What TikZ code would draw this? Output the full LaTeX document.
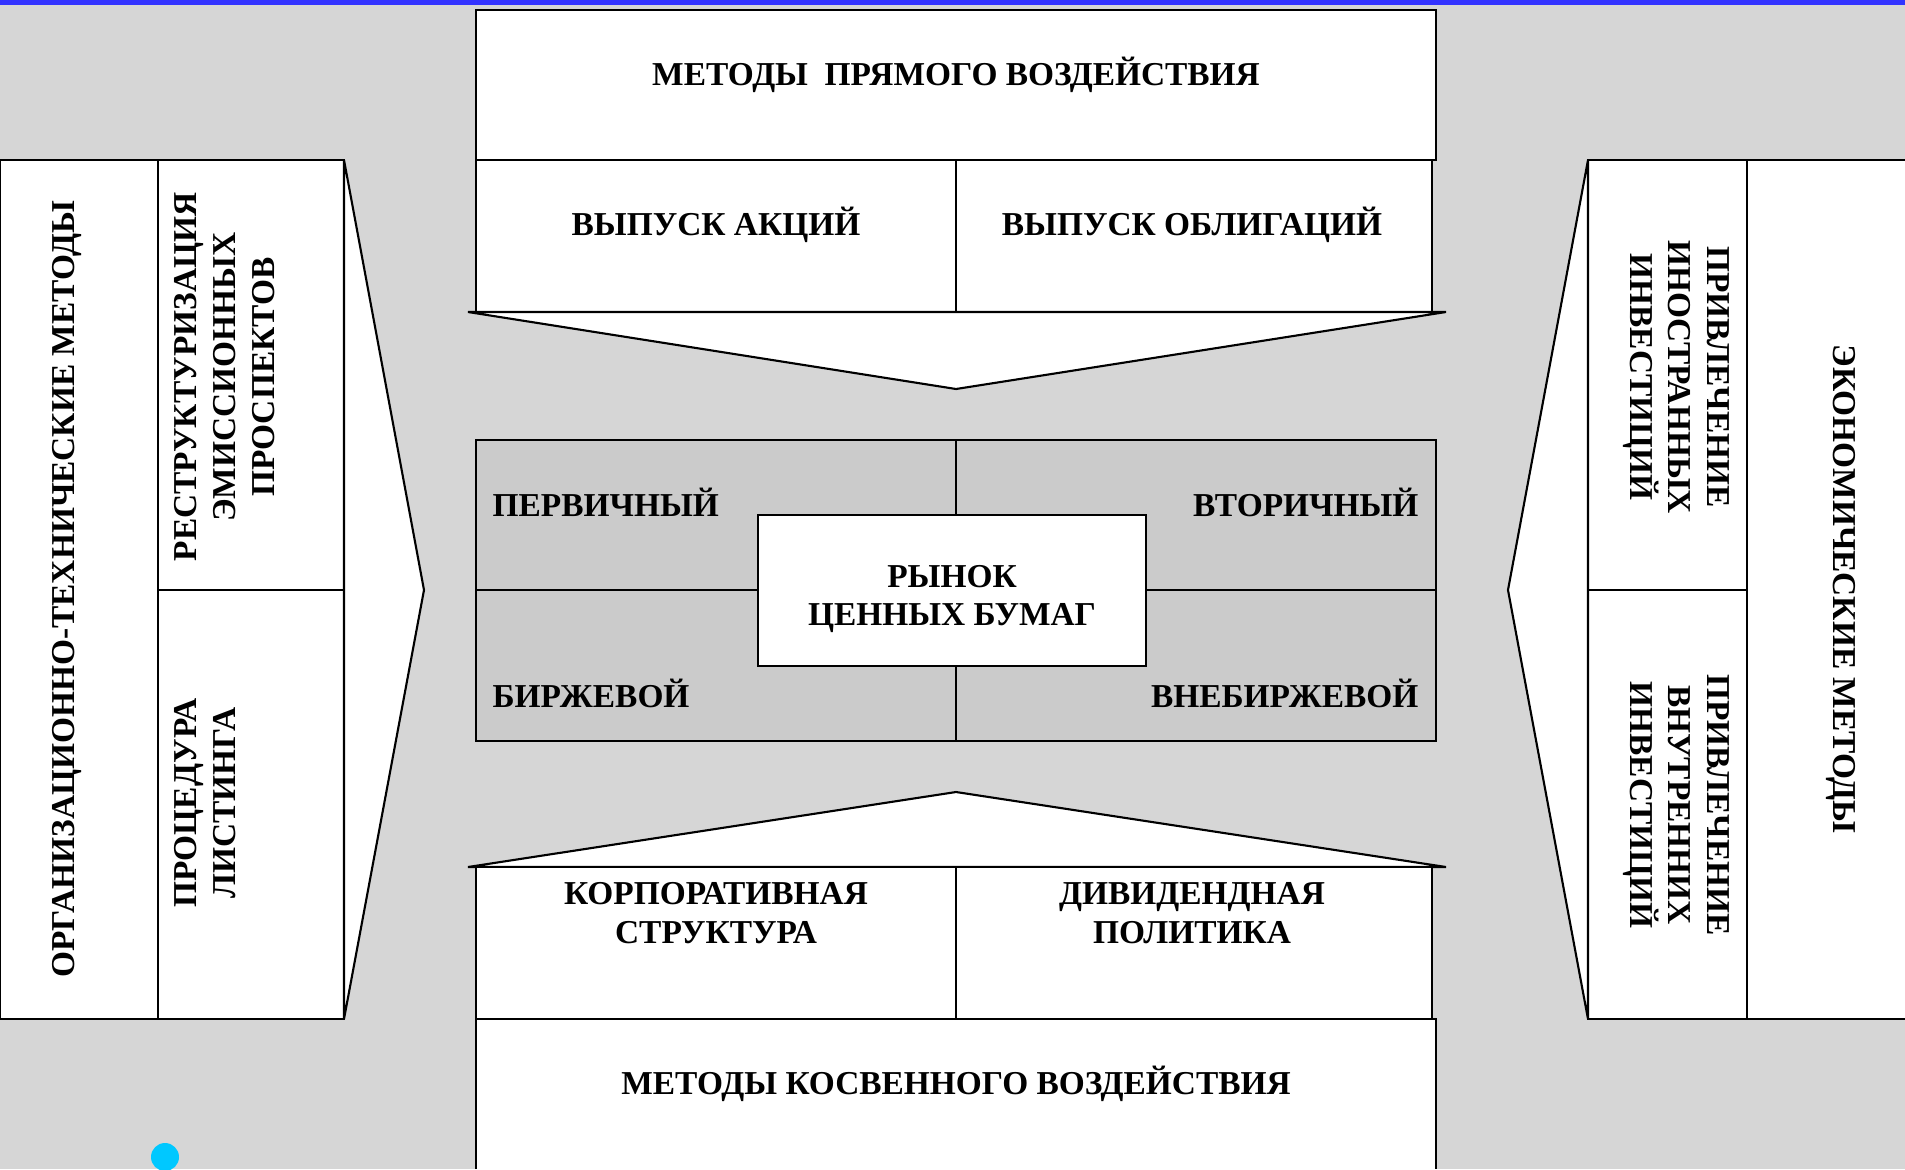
\documentclass[tikz,border=0pt]{standalone}
\usepackage{fontspec}
\setmainfont{Liberation Serif}
\definecolor{slidebg}{RGB}{214,214,214}
\definecolor{marketbg}{RGB}{203,203,203}
\definecolor{topbar}{RGB}{51,51,255}
\definecolor{bullet}{RGB}{0,200,255}
\begin{document}
\begin{tikzpicture}[x=0.01cm, y=-0.01cm, line width=0.6pt,
        lbl/.style={font=\bfseries\fontsize{9.5}{11}\selectfont, align=center, inner sep=1pt}]
        \def \lx {476}   % left edge of middle column
        \def \mx {956}   % split of middle column
        \def \rx {1436}  % right edge of middle column
        \def \ty {160}   % top of side blocks
        \def \cy {590}   % vertical centre line
        \def \by {1019}  % bottom of side blocks
        % slide background
        \useasboundingbox (0,0) rectangle (1905,1169);
        \fill[slidebg] (0,0) rectangle (1905,1169);
        \fill[topbar] (0,0) rectangle (1905,5);
        % direct methods
        \draw[fill=white] (\lx,10) rectangle (\rx,\ty);
        \node[lbl] (direct) at (\mx,75) {МЕТОДЫ\ \ ПРЯМОГО ВОЗДЕЙСТВИЯ};
        \draw[fill=white] (\lx,\ty) rectangle (\mx,312);
        \draw[fill=white] (\mx,\ty) rectangle (1432,312);
        \node[lbl] (shares) at (716,225) {ВЫПУСК АКЦИЙ};
        \node[lbl] (bonds) at (1192,225) {ВЫПУСК ОБЛИГАЦИЙ};
        % upper funnel
        \draw[fill=white] (468,312) -- (1446,312) -- (\mx,389) -- cycle;
        % market segments
        \draw[fill=marketbg] (\lx,440) rectangle (\rx,741);
        \draw (\mx,440) -- (\mx,741);
        \draw (\lx,\cy) -- (\rx,\cy);
        \node[lbl, anchor=west] (primary) at (488,502) {ПЕРВИЧНЫЙ};
        \node[lbl, anchor=east] (secondary) at (1423,502) {ВТОРИЧНЫЙ};
        \node[lbl, anchor=west] (exchange) at (488,693) {БИРЖЕВОЙ};
        \node[lbl, anchor=east] (otc) at (1423,693) {ВНЕБИРЖЕВОЙ};
        % securities market
        \draw[fill=white] (758,515) rectangle (1146,666);
        \node[lbl] (market) at (952,599) {РЫНОК\\ЦЕННЫХ БУМАГ};
        % lower funnel
        \draw[fill=white] (468,867) -- (1446,867) -- (\mx,792) -- cycle;
        % indirect methods
        \draw[fill=white] (\lx,867) rectangle (\mx,\by);
        \draw[fill=white] (\mx,867) rectangle (1432,\by);
        \node[lbl, anchor=north] (corporate) at (716,878) {КОРПОРАТИВНАЯ\\СТРУКТУРА};
        \node[lbl, anchor=north] (dividend) at (1192,878) {ДИВИДЕНДНАЯ\\ПОЛИТИКА};
        \draw[fill=white] (\lx,1169) -- (\lx,\by) -- (\rx,\by) -- (\rx,1169);
        \node[lbl] (indirect) at (\mx,1084) {МЕТОДЫ КОСВЕННОГО ВОЗДЕЙСТВИЯ};
        % organisational and technical methods
        \draw[fill=white] (0,\ty) rectangle (158,\by);
        \draw[fill=white] (158,\ty) rectangle (344,\cy);
        \draw[fill=white] (158,\cy) rectangle (344,\by);
        \draw[fill=white] (344,\ty) -- (424,\cy) -- (344,\by) -- cycle;
        \node[lbl, rotate=90] (orgtech) at (67,589) {ОРГАНИЗАЦИОННО-ТЕХНИЧЕСКИЕ МЕТОДЫ};
        \node[lbl, rotate=90, anchor=north] (restruct) at (170,377) {РЕСТРУКТУРИЗАЦИЯ\\ЭМИССИОННЫХ\\ПРОСПЕКТОВ};
        \node[lbl, rotate=90, anchor=north] (listing) at (170,803) {ПРОЦЕДУРА\\ЛИСТИНГА};
        % economic methods
        \draw[fill=white] (1747,\ty) rectangle (1910,\by);
        \draw[fill=white] (1588,\ty) rectangle (1747,\cy);
        \draw[fill=white] (1588,\cy) rectangle (1747,\by);
        \draw[fill=white] (1588,\ty) -- (1508,\cy) -- (1588,\by) -- cycle;
        \node[lbl, rotate=-90] (econ) at (1841,589) {ЭКОНОМИЧЕСКИЕ МЕТОДЫ};
        \node[lbl, rotate=-90, anchor=north] (foreign) at (1734,377) {ПРИВЛЕЧЕНИЕ\\ИНОСТРАННЫХ\\ИНВЕСТИЦИЙ};
        \node[lbl, rotate=-90, anchor=north] (domestic) at (1734,805) {ПРИВЛЕЧЕНИЕ\\ВНУТРЕННИХ\\ИНВЕСТИЦИЙ};
        % bullet
        \fill[bullet] (165,1157) circle [radius=14];
\end{tikzpicture}
\end{document}
